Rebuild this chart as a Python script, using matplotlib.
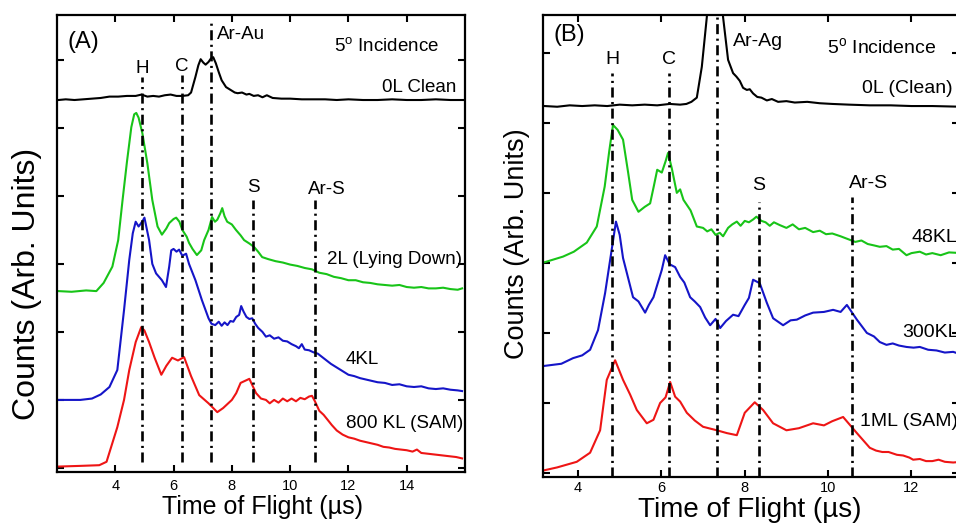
import matplotlib

matplotlib.use("Agg")
import matplotlib.pyplot as plt

plt.rcParams["font.family"] = ["Liberation Sans", "DejaVu Sans"]
plt.rcParams["mathtext.fontset"] = "custom"
plt.rcParams["mathtext.rm"] = "Liberation Sans"

# ---- panel A (Au surface), time of flight in us, counts offset per trace ----
a_clean_t = [2.05, 2.3, 2.6, 2.9, 3.2, 3.5, 3.8, 4.1, 4.4, 4.7, 4.9, 5.1, 5.3, 5.5, 5.7,
             5.9, 6.1, 6.3, 6.5, 6.6, 6.75, 6.85, 6.93, 7.02, 7.1, 7.2, 7.28, 7.36, 7.45,
             7.55, 7.65, 7.8, 7.95, 8.1, 8.2, 8.35, 8.5, 8.6, 8.75, 8.9, 9.05, 9.2, 9.4,
             9.7, 10.0, 10.4, 10.8, 11.2, 11.6, 12.0, 12.5, 13.0, 13.5, 14.0, 14.5, 15.0,
             15.5, 15.95]
a_clean_y = [5.41, 5.42, 5.41, 5.42, 5.43, 5.44, 5.46, 5.46, 5.47, 5.47, 5.49, 5.46, 5.47,
             5.46, 5.48, 5.49, 5.47, 5.47, 5.48, 5.52, 5.75, 5.92, 6.01, 5.96, 5.93, 5.97,
             6.02, 6.04, 5.95, 5.82, 5.7, 5.6, 5.56, 5.52, 5.51, 5.52, 5.49, 5.50, 5.47,
             5.48, 5.45, 5.48, 5.44, 5.43, 5.43, 5.42, 5.42, 5.42, 5.41, 5.42, 5.41, 5.41,
             5.42, 5.41, 5.41, 5.42, 5.41, 5.41]

a_2l_t = [2.05, 2.5, 3.0, 3.35, 3.6, 3.9, 4.1, 4.25, 4.4, 4.55, 4.65, 4.72, 4.8, 4.93, 5.1,
          5.27, 5.45, 5.6, 5.75, 5.85, 6.0, 6.09, 6.2, 6.3, 6.45, 6.53, 6.65, 6.8, 6.95, 7.05,
          7.2, 7.32, 7.42, 7.5, 7.6, 7.67, 7.75, 7.84, 8.0, 8.14, 8.3, 8.42, 8.6, 8.76, 8.9,
          9.04, 9.25, 9.5, 9.75, 10.0, 10.25, 10.5, 10.75, 11.0, 11.25, 11.5, 11.75, 12.0,
          12.25, 12.5, 12.75, 13.0, 13.25, 13.5, 13.75, 14.0, 14.25, 14.5, 14.75, 15.0,
          15.25, 15.5, 15.75, 15.9]
a_2l_y = [2.60, 2.59, 2.61, 2.60, 2.72, 2.96, 3.35, 3.94, 4.5, 5.01, 5.2, 5.22, 5.15, 4.92,
          4.48, 3.94, 3.55, 3.43, 3.52, 3.6, 3.66, 3.68, 3.62, 3.5, 3.4, 3.31, 3.22, 3.13,
          3.2, 3.35, 3.5, 3.69, 3.62, 3.65, 3.74, 3.82, 3.7, 3.62, 3.58, 3.50, 3.42, 3.35,
          3.3, 3.25, 3.18, 3.1, 3.07, 3.04, 3.02, 2.99, 2.97, 2.94, 2.92, 2.87, 2.85, 2.81,
          2.79, 2.76, 2.76, 2.73, 2.72, 2.7, 2.69, 2.68, 2.69, 2.66, 2.65, 2.66, 2.64, 2.64,
          2.65, 2.63, 2.62, 2.64]

a_4kl_t = [2.05, 2.8, 3.2, 3.5, 3.8, 4.07, 4.3, 4.48, 4.6, 4.7, 4.8, 4.87, 4.95, 5.0, 5.16,
           5.27, 5.4, 5.6, 5.74, 5.85, 5.92, 6.0, 6.1, 6.19, 6.3, 6.43, 6.53, 6.75, 6.97,
           7.2, 7.3, 7.43, 7.55, 7.65, 7.75, 7.85, 7.95, 8.05, 8.15, 8.25, 8.32, 8.4, 8.5,
           8.6, 8.7, 8.8, 8.9, 9.05, 9.17, 9.3, 9.45, 9.6, 9.75, 9.9, 10.05, 10.2, 10.3,
           10.4, 10.5, 10.65, 10.8, 10.95, 11.1, 11.25, 11.4, 11.55, 11.7, 11.85, 12.0,
           12.2, 12.4, 12.6, 12.8, 13.0, 13.25, 13.5, 13.75, 14.0, 14.25, 14.5, 14.75, 15.0,
           15.25, 15.5, 15.75, 15.9]
a_4kl_y = [1.0, 1.0, 1.02, 1.08, 1.19, 1.44, 2.32, 3.06, 3.45, 3.62, 3.55, 3.59, 3.64, 3.68,
           3.35, 3.0, 2.86, 2.76, 2.66, 2.96, 3.2, 3.22, 3.18, 3.21, 3.12, 3.15, 3.0, 2.76,
           2.47, 2.2, 2.12, 2.1, 2.15, 2.09, 2.14, 2.1, 2.16, 2.15, 2.22, 2.25, 2.38, 2.3,
           2.22, 2.19, 2.2, 2.12, 2.06, 2.0, 1.93, 1.95, 1.9, 1.92, 1.87, 1.86, 1.82, 1.79,
           1.76, 1.82, 1.74, 1.73, 1.7, 1.68, 1.63, 1.58, 1.53, 1.49, 1.45, 1.41, 1.37, 1.35,
           1.32, 1.3, 1.28, 1.26, 1.25, 1.22, 1.23, 1.2, 1.19, 1.2, 1.17, 1.16, 1.17, 1.15,
           1.14, 1.13]

a_sam_t = [2.05, 2.8, 3.45, 3.7, 4.07, 4.3, 4.48, 4.7, 4.89, 5.0, 5.16, 5.35, 5.58, 5.75,
           5.95, 6.15, 6.36, 6.6, 6.88, 7.2, 7.5, 7.7, 8.0, 8.15, 8.3, 8.45, 8.6, 8.83, 9.0,
           9.17, 9.3, 9.45, 9.6, 9.75, 9.9, 10.05, 10.2, 10.35, 10.5, 10.65, 10.75, 10.85,
           11.0, 11.15, 11.3, 11.43, 11.6, 11.8, 12.0, 12.2, 12.4, 12.6, 12.8, 13.0, 13.2,
           13.4, 13.6, 13.8, 14.0, 14.2, 14.35, 14.5, 14.7, 14.9, 15.1, 15.3, 15.5, 15.7, 15.9]
a_sam_y = [0.02, 0.03, 0.04, 0.09, 0.6, 1.0, 1.44, 1.85, 2.07, 2.02, 1.85, 1.62, 1.37, 1.5,
           1.62, 1.58, 1.63, 1.35, 1.07, 0.95, 0.82, 0.88, 1.0, 1.1, 1.25, 1.28, 1.31, 1.1,
           1.02, 1.0, 0.95, 1.0, 0.96, 1.02, 0.98, 1.02, 0.98, 1.03, 1.01, 1.05, 1.06, 0.98,
           0.84, 0.78, 0.7, 0.63, 0.55, 0.49, 0.45, 0.43, 0.4, 0.38, 0.36, 0.34, 0.31, 0.3,
           0.28, 0.27, 0.26, 0.24, 0.27, 0.22, 0.21, 0.2, 0.19, 0.18, 0.17, 0.16, 0.14]

a_marks_t = [4.92, 6.29, 7.28, 8.73, 10.85]
a_marks_top = [5.75, 5.78, 6.6, 3.94, 3.94]

# ---- panel B (Ag surface) ----
b_clean_t = [3.2, 3.5, 3.8, 4.1, 4.4, 4.7, 5.0, 5.3, 5.6, 5.9, 6.2, 6.45, 6.6, 6.72, 6.85,
             6.97, 7.09, 7.3, 7.48, 7.6, 7.72, 7.8, 7.88, 7.96, 8.05, 8.12, 8.2, 8.3, 8.4,
             8.53, 8.65, 8.8, 9.0, 9.2, 9.5, 9.8, 10.1, 10.5, 11.0, 11.5, 12.0, 12.5, 13.2]
b_clean_y = [5.24, 5.23, 5.25, 5.24, 5.25, 5.24, 5.26, 5.25, 5.26, 5.25, 5.27, 5.26, 5.27,
             5.3, 5.36, 5.8, 6.51, 8.5, 6.51, 5.9, 5.71, 5.66, 5.6, 5.5, 5.47, 5.48, 5.42,
             5.37, 5.36, 5.32, 5.34, 5.3, 5.31, 5.29, 5.3, 5.28, 5.27, 5.26, 5.25, 5.25, 5.24,
             5.24, 5.23]

b_48_t = [3.2, 3.64, 3.9, 4.21, 4.45, 4.64, 4.75, 4.84, 4.95, 5.08, 5.2, 5.3, 5.45, 5.6,
          5.73, 5.82, 5.9, 6.01, 6.1, 6.16, 6.25, 6.37, 6.45, 6.53, 6.7, 6.85, 7.0, 7.1, 7.2,
          7.3, 7.4, 7.48, 7.6, 7.7, 7.81, 7.9, 8.0, 8.1, 8.2, 8.28, 8.4, 8.5, 8.6, 8.7, 8.84,
          9.0, 9.15, 9.3, 9.45, 9.64, 9.8, 9.95, 10.1, 10.3, 10.52, 10.65, 10.8, 10.95, 11.1,
          11.24, 11.4, 11.55, 11.7, 11.88, 12.0, 12.2, 12.35, 12.5, 12.7, 12.9, 13.2]
b_48_y = [3.01, 3.09, 3.16, 3.29, 3.52, 4.09, 4.6, 4.97, 4.9, 4.76, 4.3, 3.9, 3.73, 3.8,
          3.85, 4.1, 4.33, 4.29, 4.45, 4.57, 4.35, 4.0, 4.05, 3.9, 3.75, 3.52, 3.5, 3.45, 3.48,
          3.4, 3.43, 3.38, 3.5, 3.55, 3.59, 3.53, 3.6, 3.58, 3.62, 3.66, 3.6, 3.58, 3.53, 3.58,
          3.54, 3.5, 3.55, 3.48, 3.5, 3.44, 3.46, 3.41, 3.42, 3.38, 3.33, 3.3, 3.32, 3.27,
          3.25, 3.23, 3.24, 3.19, 3.2, 3.11, 3.14, 3.16, 3.12, 3.14, 3.11, 3.15, 3.14]

b_300_t = [3.2, 3.6, 3.88, 4.1, 4.29, 4.48, 4.65, 4.77, 4.91, 5.0, 5.08, 5.17, 5.32, 5.45,
           5.61, 5.7, 5.81, 6.01, 6.09, 6.2, 6.33, 6.45, 6.55, 6.69, 6.8, 6.93, 7.05, 7.17,
           7.3, 7.41, 7.55, 7.72, 7.85, 8.0, 8.1, 8.2, 8.36, 8.53, 8.68, 8.92, 9.1, 9.25,
           9.45, 9.64, 9.9, 10.12, 10.3, 10.45, 10.69, 10.93, 11.1, 11.24, 11.4, 11.55, 11.7,
           11.88, 12.05, 12.2, 12.4, 12.6, 12.8, 13.0, 13.2]
b_300_y = [1.53, 1.56, 1.64, 1.68, 1.76, 2.04, 2.57, 3.04, 3.59, 3.4, 3.07, 2.86, 2.51, 2.45,
           2.29, 2.4, 2.51, 2.9, 3.11, 2.98, 2.94, 2.8, 2.72, 2.51, 2.45, 2.37, 2.22, 2.11,
           2.2, 2.07, 2.17, 2.26, 2.24, 2.4, 2.5, 2.76, 2.71, 2.43, 2.21, 2.11, 2.18, 2.19,
           2.25, 2.29, 2.3, 2.33, 2.3, 2.4, 2.19, 2.0, 1.95, 1.87, 1.83, 1.85, 1.82, 1.8, 1.79,
           1.8, 1.76, 1.75, 1.72, 1.73, 1.69]

b_sam_t = [3.2, 3.5, 3.97, 4.29, 4.53, 4.69, 4.89, 5.08, 5.25, 5.41, 5.65, 5.81, 5.97, 6.1,
           6.21, 6.33, 6.45, 6.61, 6.8, 7.0, 7.33, 7.57, 7.81, 8.0, 8.24, 8.44, 8.68, 9.0,
           9.3, 9.64, 9.9, 10.1, 10.36, 10.69, 11.0, 11.15, 11.3, 11.45, 11.65, 11.8, 11.95,
           12.04, 12.2, 12.35, 12.5, 12.65, 12.8, 13.0, 13.2]
b_sam_y = [0.04, 0.08, 0.16, 0.29, 0.61, 1.33, 1.61, 1.33, 1.12, 0.9, 0.71, 0.76, 1.0, 1.08,
           1.3, 1.09, 1.02, 0.86, 0.75, 0.66, 0.61, 0.57, 0.54, 0.86, 1.01, 0.9, 0.71, 0.61,
           0.64, 0.71, 0.68, 0.74, 0.8, 0.57, 0.36, 0.32, 0.3, 0.3, 0.26, 0.25, 0.22, 0.19,
           0.2, 0.17, 0.17, 0.19, 0.16, 0.15, 0.16]

b_marks_t = [4.82, 6.18, 7.33, 8.34, 10.57]
b_marks_top = [5.71, 5.71, 6.6, 3.87, 3.94]

GREEN, BLUE, RED = "#18c418", "#1515c8", "#ee1515"
DASHDOT = (0, (3.8, 1.7, 0.8, 1.7))

W, H = 956, 527
fig = plt.figure(figsize=(W / 100, H / 100), dpi=100)


def frame(rect, xlim, ylim, xticks, pad):
    l, r, t, b = rect
    ax = fig.add_axes([l / W, 1 - b / H, (r - l) / W, (b - t) / H])
    ax.set_xlim(*xlim)
    ax.set_ylim(*ylim)
    ax.set_xticks(xticks)
    ax.set_yticks(range(7))
    ax.set_yticklabels([])
    ax.tick_params(direction="in", length=5, width=1.5, top=True, right=True,
                   labelsize=10.5, pad=pad)
    for s in ax.spines.values():
        s.set_linewidth(1.6)
    return ax


def marks(ax, ts, tops, bottom):
    for t, top in zip(ts, tops):
        ax.plot([t, t], [bottom, top], color="black", lw=1.9, ls=DASHDOT)


# panel A
axA = frame((57, 465, 15, 472), (2, 16), (-0.06, 6.66), [4, 6, 8, 10, 12, 14], 5)
axA.plot(a_clean_t, a_clean_y, color="black", lw=1.5)
axA.plot(a_2l_t, a_2l_y, color=GREEN, lw=1.5)
axA.plot(a_4kl_t, a_4kl_y, color=BLUE, lw=1.5)
axA.plot(a_sam_t, a_sam_y, color=RED, lw=1.5)
marks(axA, a_marks_t, a_marks_top, 0.09)
kw = dict(fontsize=13.5, va="center")
axA.text(2.36, 6.26, "(A)", fontsize=17, va="center")
axA.text(11.5, 6.19, r"5$^\mathrm{o}$ Incidence", **kw)
axA.text(15.71, 5.6, "0L Clean", ha="right", **kw)
axA.text(4.92, 5.88, "H", ha="center", **kw)
axA.text(6.29, 5.9, "C", ha="center", **kw)
axA.text(7.49, 6.37, "Ar-Au", **kw)
axA.text(8.73, 4.12, "S", ha="center", **kw)
axA.text(10.62, 4.1, "Ar-S", **kw)
axA.text(15.9, 3.06, "2L (Lying Down)", ha="right", **kw)
axA.text(12.46, 1.59, "4KL", ha="center", **kw)
axA.text(15.95, 0.66, "800 KL (SAM)", ha="right", **kw)
fig.text(262 / W, 1 - 514 / H, "Time of Flight (µs)", fontsize=18, ha="center",
         va="baseline")
fig.text(27 / W, 1 - 284 / H, "Counts (Arb. Units)", fontsize=23, ha="center",
         va="center", rotation=90)

# panel B (right edge runs past the figure, as in the source)
axB = frame((543, 959, 15, 477), (3.16, 13.14), (-0.057, 6.54), [4, 6, 8, 10, 12], 3)
axB.plot(b_clean_t, b_clean_y, color="black", lw=1.5)
axB.plot(b_48_t, b_48_y, color=GREEN, lw=1.5)
axB.plot(b_300_t, b_300_y, color=BLUE, lw=1.5)
axB.plot(b_sam_t, b_sam_y, color=RED, lw=1.5)
marks(axB, b_marks_t, b_marks_top, -0.06)
kwb = dict(fontsize=14, va="center")
axB.text(3.4, 6.26, "(B)", fontsize=17, va="center")
axB.text(9.97, 6.07, r"5$^\mathrm{o}$ Incidence", **kwb)
axB.text(12.99, 5.49, "0L (Clean)", ha="right", **kwb)
axB.text(4.82, 5.9, "H", ha="center", **kwb)
axB.text(6.18, 5.9, "C", ha="center", **kwb)
axB.text(7.72, 6.16, "Ar-Ag", **kwb)
axB.text(8.34, 4.11, "S", ha="center", **kwb)
axB.text(10.5, 4.14, "Ar-S", **kwb)
axB.text(12.0, 3.36, "48KL", clip_on=False, **kwb)
axB.text(11.77, 2.01, "300KL", clip_on=False, **kwb)
axB.text(10.76, 0.74, "1ML (SAM)", clip_on=False, **kwb)
fig.text(750 / W, 1 - 517 / H, "Time of Flight (µs)", fontsize=20, ha="center",
         va="baseline")
fig.text(517 / W, 1 - 244 / H, "Counts (Arb. Units)", fontsize=19.5, ha="center",
         va="center", rotation=90)

fig.savefig("out.png", dpi=100)
